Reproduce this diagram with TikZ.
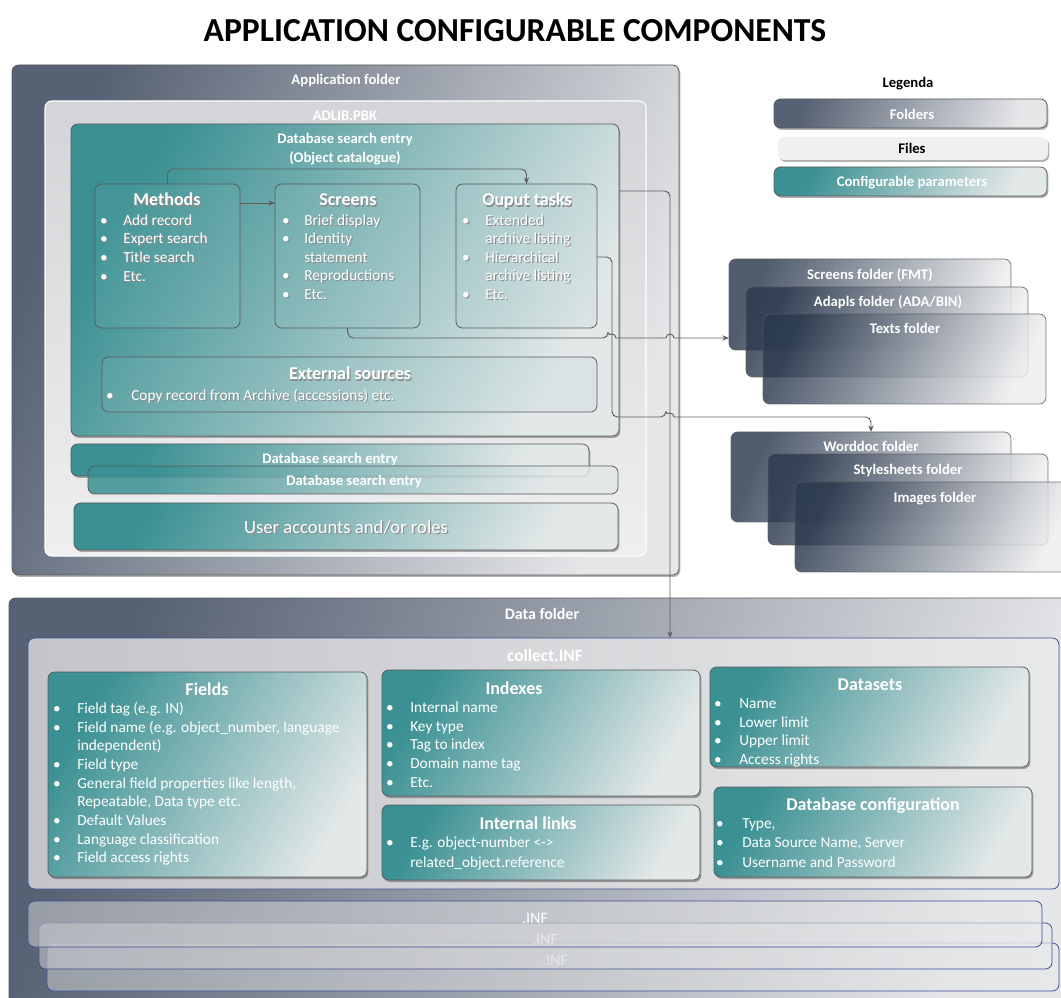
\documentclass[tikz,border=0pt]{standalone}
\usepackage{fontspec}
\setmainfont{Carlito}
\usetikzlibrary{fit,shadows,arrows.meta}
\definecolor{foldA}{HTML}{566173}
\definecolor{foldB}{HTML}{E6E7E9}
\definecolor{stackA}{HTML}{2B394E}
\definecolor{stackB}{HTML}{ECEDEE}
\definecolor{tealA}{HTML}{3A9092}
\definecolor{tealB}{HTML}{E3E8E8}
\definecolor{fileA}{HTML}{D3D4D7}
\definecolor{fileB}{HTML}{EFEFF0}
\definecolor{infA}{HTML}{C3C5C9}
\definecolor{infB}{HTML}{E8E9EA}
\definecolor{edgec}{HTML}{5A5A5A}
\definecolor{blueedge}{HTML}{3E4E96}
\definecolor{connc}{HTML}{5E5E5E}
\newcommand\bx[6]{\node[#6, fit={(#2,#3)(#4,#5)}] (#1) {};}
\newcommand\sh[1]{\rlap{\kern0.9pt\raisebox{-0.9pt}{\textcolor{black!45}{#1}}}#1}
\newcommand\itm[5]{\node[bul] (#1b) at (#2,#4) {\textbullet}; \node[itxt] (#1) at (#3,#4) {#5};}
\newcommand\cont[4]{\node[itxt] (#1) at (#2,#3) {#4};}
\newcommand\sitm[5]{\node[bul] (#1b) at (#2,#4) {\sh{\textbullet}}; \node[itxt] (#1) at (#3,#4) {\sh{#5}};}
\newcommand\scont[4]{\node[itxt] (#1) at (#2,#3) {\sh{#4}};}
\begin{document}
\begin{tikzpicture}[x=0.75pt,y=-0.75pt,
  shd/.style={drop shadow={shadow xshift=1pt,shadow yshift=-1.5pt,opacity=0.3,fill=black}},
  folder/.style={inner sep=0pt,outer sep=0pt,draw=edgec,line width=0.6pt,rounded corners=5pt,left color=foldA,right color=foldB,shading angle=70},
  stack/.style={inner sep=0pt,outer sep=0pt,draw=edgec,draw opacity=0.8,line width=0.6pt,rounded corners=5pt,left color=stackA,right color=stackB,shading angle=65,fill opacity=0.82},
  tealbox/.style={inner sep=0pt,outer sep=0pt,draw=edgec,line width=0.6pt,rounded corners=5pt,left color=tealA,right color=tealB,shading angle=60},
  subbox/.style={inner sep=0pt,outer sep=0pt,draw=edgec,line width=0.6pt,rounded corners=5pt,fill=tealA!50!white,fill opacity=0.12},
  filebox/.style={inner sep=0pt,outer sep=0pt,draw=white,line width=0.8pt,rounded corners=5pt,top color=fileA,bottom color=fileB},
  infbox/.style={inner sep=0pt,outer sep=0pt,draw=blueedge,line width=0.6pt,rounded corners=5pt,left color=infA,right color=infB},
  infbar/.style={infbox,fill opacity=0.6},
  lbl/.style={text=white,font=\bfseries\fontsize{11}{13}\selectfont,inner sep=0pt,text height=10pt,text depth=1pt},
  ttl/.style={text=white,font=\bfseries\fontsize{13.5}{15}\selectfont,inner sep=0pt,text height=11.5pt,text depth=1pt},
  itxt/.style={text=white,font=\fontsize{11.5}{13}\selectfont,anchor=west,inner sep=0pt,text height=9pt,text depth=1pt},
  bul/.style={text=white,font=\fontsize{11.5}{13}\selectfont,inner sep=0pt,text height=9pt,text depth=1pt},
  cn/.style={draw=connc,line width=0.7pt,rounded corners=4pt},
  tip/.style={-{Stealth[length=5pt,width=4pt]}}
]
\useasboundingbox (0,0) rectangle (1061,998);
\fill[white] (0,0) rectangle (1061,998);
\clip (0,0) rectangle (1061,998);

% title
\node[font=\bfseries\fontsize{25.2}{28}\selectfont,inner sep=0pt] (title) at (515,31) {APPLICATION CONFIGURABLE COMPONENTS};

% ===== Application folder =====
\bx{app}{12}{65}{679}{575}{folder,shd}
\node[lbl] (tapp) at (346,79) {Application folder};
\bx{pbk}{45}{101}{646}{556}{filebox}
\node[lbl] (tpbk) at (345,115) {ADLIB.PBK};
\bx{dbse}{71}{124}{619}{436}{tealbox,shd}
\node[lbl] (tdb1) at (345,138) {Database search entry};
\node[lbl] (tdb2) at (345,157) {(Object catalogue)};

\bx{meth}{95}{184}{240}{328}{subbox}
\node[ttl] (tmeth) at (167,199) {\sh{Methods}};
\sitm{m1}{104}{123}{220}{Add record}
\sitm{m2}{104}{123}{238}{Expert search}
\sitm{m3}{104}{123}{257}{Title search}
\sitm{m4}{104}{123}{276}{Etc.}

\bx{scr}{275}{184}{420}{328}{subbox}
\node[ttl] (tscr) at (348,199) {\sh{Screens}};
\sitm{s1}{286}{304}{220}{Brief display}
\sitm{s2}{286}{304}{238}{Identity}
\scont{s2b}{304}{257}{statement}
\sitm{s3}{286}{304}{275}{Reproductions}
\sitm{s4}{286}{304}{294}{Etc.}

\bx{out}{456}{184}{597}{328}{subbox}
\node[ttl] (tout) at (527,199) {\sh{Ouput tasks}};
\sitm{o1}{466}{485}{220}{Extended}
\scont{o1b}{485}{238}{archive listing}
\sitm{o2}{466}{485}{257}{Hierarchical}
\scont{o2b}{485}{275}{archive listing}
\sitm{o3}{466}{485}{294}{Etc.}

\bx{ext}{102}{357}{597}{412}{subbox}
\node[ttl] (text) at (350,373) {\sh{External sources}};
\sitm{e1}{110}{131}{395}{Copy record from Archive (accessions) etc.}

\bx{dbe1}{71}{444}{589}{476}{tealbox,shd}
\node[lbl] (tdbe1) at (330,458) {Database search entry};
\bx{dbe2}{88}{466}{618}{494}{tealbox,fill opacity=0.85}
\node[lbl] (tdbe2) at (354,480) {Database search entry};
\bx{usr}{74}{503}{618}{550}{tealbox,shd}
\node[text=white,font=\fontsize{14}{16}\selectfont,inner sep=0pt,text height=11pt,text depth=1pt] (tusr) at (346,527) {\sh{User accounts and/or roles}};

% ===== Legend =====
\node[font=\bfseries\fontsize{11}{13}\selectfont,inner sep=0pt,text height=10pt,text depth=1pt] (leg) at (908,82) {Legenda};
\bx{lfold}{774}{99}{1047}{128}{folder,shd}
\node[lbl] (tlfold) at (912,114) {Folders};
\node[inner sep=0pt,outer sep=0pt,rounded corners=5pt,fill=black!6,shd,fit={(778,137)(1048,160)}] (lfile) {};
\node[lbl,text=black] (tlfile) at (912,148) {Files};
\bx{lconf}{774}{167}{1047}{196}{tealbox,shd}
\node[lbl] (tlconf) at (912,181) {Configurable parameters};

% ===== Folder stacks =====
\bx{sfold}{729}{259}{1011}{350}{stack}
\node[lbl] (tsfold) at (870,274) {Screens folder (FMT)};
\bx{afold}{746}{287}{1028}{377}{stack}
\node[lbl] (tafold) at (888,301) {Adapls folder (ADA/BIN)};
\bx{tfold}{763}{314}{1046}{404}{stack}
\node[lbl] (ttfold) at (905,328) {Texts folder};

\bx{wd}{731}{432}{1011}{522}{stack}
\node[lbl] (twd) at (871,446) {Worddoc folder};
\bx{ss}{768}{454}{1048}{545}{stack}
\node[lbl] (tss) at (908,469) {Stylesheets folder};
\bx{img}{795}{482}{1075}{572}{stack}
\node[lbl] (timg) at (935,497) {Images folder};

% ===== Data folder =====
\bx{data}{9}{598}{1080}{1015}{folder,shd}
\node[lbl,font=\bfseries\fontsize{12}{14}\selectfont] (tdata) at (542,613) {Data folder};
\bx{coll}{28}{638}{1059}{889}{infbox}
\node[lbl,font=\bfseries\fontsize{13}{15}\selectfont,text height=11pt] (tcoll) at (545,655) {collect.INF};

\bx{fld}{48}{672}{367}{877}{tealbox,shd}
\node[ttl] (tfld) at (207,688) {Fields};
\itm{f1}{57}{77}{708}{Field tag (e.g. IN)}
\itm{f2}{57}{77}{727}{Field name (e.g. object\_number, language}
\cont{f2b}{77}{745}{independent)}
\itm{f3}{57}{77}{764}{Field type}
\itm{f4}{57}{77}{783}{General field properties like length,}
\cont{f4b}{77}{801}{Repeatable, Data type etc.}
\itm{f5}{57}{77}{820}{Default Values}
\itm{f6}{57}{77}{839}{Language classification}
\itm{f7}{57}{77}{857}{Field access rights}

\bx{idx}{382}{670}{700}{796}{tealbox,shd}
\node[ttl] (tidx) at (514,687) {Indexes};
\itm{i1}{390}{410}{707}{Internal name}
\itm{i2}{390}{410}{726}{Key type}
\itm{i3}{390}{410}{744}{Tag to index}
\itm{i4}{390}{410}{763}{Domain name tag}
\itm{i5}{390}{410}{782}{Etc.}

\bx{lnk}{382}{805}{700}{880}{tealbox,shd}
\node[ttl] (tlnk) at (528,822) {Internal links};
\itm{l1}{390}{410}{842}{E.g. object-number <->}
\cont{l1b}{410}{862}{related\_object.reference}

\bx{dset}{710}{667}{1029}{767}{tealbox,shd}
\node[ttl] (tdset) at (870,683) {Datasets};
\itm{d1}{718}{739}{703}{Name}
\itm{d2}{718}{739}{722}{Lower limit}
\itm{d3}{718}{739}{740}{Upper limit}
\itm{d4}{718}{739}{759}{Access rights}

\bx{dcfg}{714}{787}{1032}{877}{tealbox,shd}
\node[ttl] (tdcfg) at (873,803) {Database configuration};
\itm{c1}{720}{742}{823}{Type,}
\itm{c2}{720}{742}{842}{Data Source Name, Server}
\itm{c3}{720}{742}{862}{Username and Password}

% .INF stack
\bx{inf3}{47}{943}{1059}{991}{infbar}
\node[lbl,font=\fontsize{12}{14}\selectfont] (tinf3) at (555,959) {.INF};
\bx{inf2}{39}{923}{1052}{969}{infbar}
\node[lbl,font=\fontsize{12}{14}\selectfont] (tinf2) at (545,938) {.INF};
\bx{inf1}{28}{901}{1042}{947}{infbar}
\node[lbl,font=\fontsize{12}{14}\selectfont] (tinf1) at (535,917) {.INF};

% ===== Connectors =====
\draw[cn,tip] (meth.north) -- ++(0,-15) -| (out.north);
\draw[cn,tip] (meth.east |- 0,203) -- (scr.west |- 0,203);
\draw[cn,tip] (dbse.east |- 0,191) -| (coll.north -| 670,0);
\draw[cn,tip] (out.east |- 0,257) -- (612,257) -- (612,417) -- (666,417)
  [sharp corners] arc[start angle=180,end angle=360,radius=4]
  [rounded corners=4pt] -- (871,417) -- (wd.north);
\draw[cn,tip] (scr.south) -- (348,338) -- (608,338)
  [sharp corners] arc[start angle=180,end angle=360,radius=4]
  -- (666,338) arc[start angle=180,end angle=360,radius=4]
  -- (sfold.west |- 0,338);
\end{tikzpicture}
\end{document}
